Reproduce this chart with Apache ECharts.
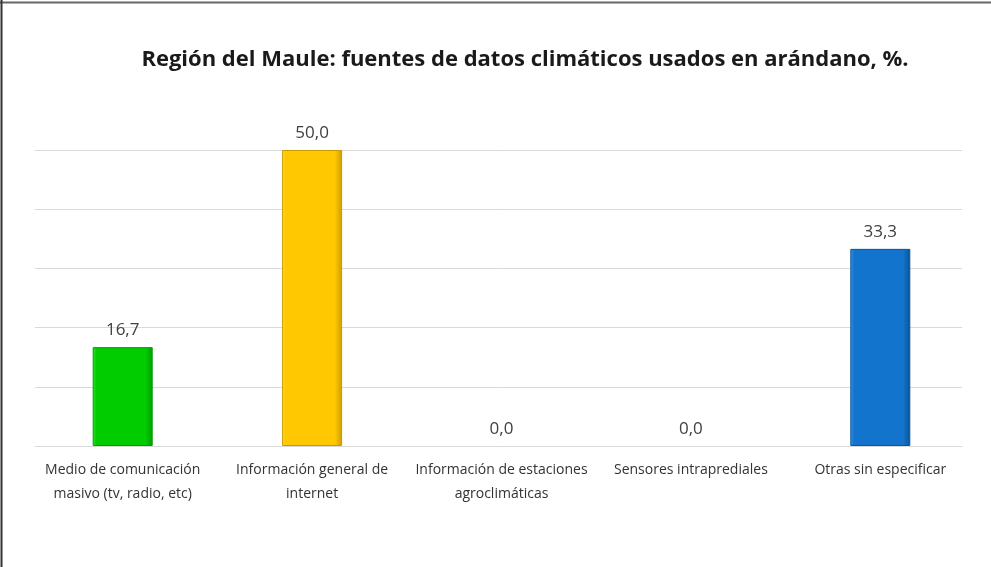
<!DOCTYPE html>
<html>
<head>
<meta charset="utf-8">
<script src="https://cdn.jsdelivr.net/npm/echarts@6/dist/echarts.min.js"></script>
<style>
  html, body { margin: 0; padding: 0; background: #fff; }
  #chart { width: 991px; height: 567px; }
</style>
</head>
<body>
<div id="chart"></div>
<script>
  var categories = [
    'Medio de comunicación\nmasivo (tv, radio, etc)',
    'Información general de\ninternet',
    'Información de estaciones\nagroclimáticas',
    'Sensores intraprediales',
    'Otras sin especificar'
  ]
  var values = [16.7, 50.0, 0.0, 0.0, 33.3]
  var barColors = [
    ['#33e633', '#00cc00', '#009e00'],
    ['#ffd633', '#ffc800', '#cc9a00'],
    ['#4da6ff', '#0a7ad6', '#075ea8'],
    ['#4da6ff', '#0a7ad6', '#075ea8'],
    ['#3f98e6', '#1274cc', '#0a5596']
  ]

  function grad(c) {
    return {
      type: 'linear', x: 0, y: 0, x2: 1, y2: 0,
      colorStops: [
        {offset: 0, color: c[0]},
        {offset: 0.06, color: c[1]},
        {offset: 0.88, color: c[1]},
        {offset: 1, color: c[2]}
      ]
    }
  }

  var chart = echarts.init(document.getElementById('chart'))
  var option = {
    backgroundColor: '#fff',
    animation: false,
    title: {
      text: 'Región del Maule: fuentes de datos climáticos usados en arándano, %.',
      left: 520,
      textAlign: 'center',
      top: 44,
      textStyle: {
        fontFamily: 'Open Sans',
        fontWeight: 'bold',
        fontSize: 22,
        color: '#1a1a1a'
      }
    },
    grid: [
      {left: 35, right: 29, top: 150, bottom: 121},
      {left: 28, right: 16, top: 150, bottom: 121}
    ],
    xAxis: [
      {
        type: 'category',
        gridIndex: 0,
        data: categories,
        axisTick: {show: false},
        axisLabel: {show: false},
        axisLine: {lineStyle: {color: '#d9d9d9'}}
      },
      {
        type: 'category',
        gridIndex: 1,
        data: categories,
        axisTick: {show: false},
        axisLine: {show: false},
        axisLabel: {
          interval: 0,
          color: '#333',
          fontFamily: 'Open Sans',
          fontSize: 14,
          lineHeight: 24,
          margin: 12
        }
      }
    ],
    yAxis: [
      {
        type: 'value',
        gridIndex: 0,
        min: 0,
        max: 50,
        interval: 10,
        axisLabel: {show: false},
        axisLine: {show: false},
        axisTick: {show: false},
        splitLine: {lineStyle: {color: '#d9d9d9'}}
      },
      {
        type: 'value',
        gridIndex: 1,
        min: 0,
        max: 50,
        interval: 10,
        axisLabel: {show: false},
        axisLine: {show: false},
        axisTick: {show: false},
        splitLine: {show: false}
      }
    ],
    series: [{
      type: 'bar',
      xAxisIndex: 1,
      yAxisIndex: 1,
      barWidth: 60,
      data: values.map(function (v, i) {
        return {
          value: v,
          itemStyle: v > 0 ? {
            color: grad(barColors[i]),
            borderColor: barColors[i][2],
            borderWidth: 1
          } : {
            color: 'rgba(0,0,0,0)',
            borderWidth: 0
          }
        }
      }),
      label: {
        show: true,
        position: 'top',
        distance: 8,
        color: '#404040',
        fontFamily: 'Open Sans',
        fontSize: 17,
        formatter: function (p) {
          return p.value.toFixed(1).replace('.', ',')
        }
      }
    }],
    graphic: [
      {type: 'line', shape: {x1: 0, y1: 2.5, x2: 991, y2: 2.5}, style: {stroke: '#666', lineWidth: 2}},
      {type: 'line', shape: {x1: 1.5, y1: 0, x2: 1.5, y2: 567}, style: {stroke: '#333', lineWidth: 2}}
    ]
  }
  chart.setOption(option)
</script>
</body>
</html>
